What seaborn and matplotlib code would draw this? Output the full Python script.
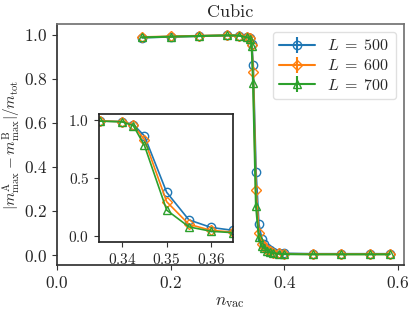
import numpy as np
import pandas as pd
import seaborn as sns
import matplotlib.pyplot as plt

# vacancy concentration and order parameter for three system sizes
n_vac = [0.15, 0.2, 0.25, 0.3, 0.32, 0.335, 0.34, 0.3425, 0.345, 0.35, 0.355,
         0.36, 0.365, 0.37, 0.375, 0.38, 0.39, 0.4, 0.45, 0.5, 0.55, 0.585]
m_500 = [0.988, 0.992, 0.995, 0.998, 0.997, 0.990, 0.985, 0.960, 0.862, 0.377, 0.140,
         0.075, 0.050, 0.032, 0.022, 0.015, 0.010, 0.007, 0.005, 0.005, 0.005, 0.005]
m_600 = [0.990, 0.993, 0.996, 0.998, 0.997, 0.990, 0.985, 0.955, 0.830, 0.296, 0.102,
         0.050, 0.035, 0.024, 0.016, 0.011, 0.007, 0.005, 0.004, 0.004, 0.004, 0.004]
m_700 = [0.989, 0.992, 0.995, 0.998, 0.997, 0.989, 0.983, 0.950, 0.780, 0.224, 0.080,
         0.042, 0.030, 0.020, 0.013, 0.009, 0.006, 0.004, 0.003, 0.003, 0.003, 0.003]
err = [0.0] * len(n_vac)

sizes = [500, 600, 700]
marcadores = ['o', 'D', '^']

sns.set_theme(style="ticks", palette="tab10")
plt.rcParams['font.family'] = 'serif'
plt.rcParams['font.serif'] = ['cmr10', 'DejaVu Serif']
plt.rcParams['mathtext.fontset'] = 'cm'
plt.rcParams['axes.formatter.use_mathtext'] = True
plt.rcParams['axes.unicode_minus'] = False

cores = sns.color_palette("tab10", 3)
series = [m_500, m_600, m_700]

fig = plt.figure(figsize=(4.15, 3.15), dpi=100)
ax = fig.add_axes([0.137, 0.159, 0.836, 0.765])

for L, y, c, mk in zip(sizes, series, cores, marcadores):
    ax.errorbar(n_vac, y, yerr=err, color=c, marker=mk, ms=6 if mk != 'D' else 5.5,
                mfc='none', mec=c, mew=1, lw=1.5, label=rf'$L\;=\;{L}$')

ax.set_xlim(0, 0.61)
ax.set_ylim(-0.045, 1.05)
ax.set_xticks([0.0, 0.2, 0.4, 0.6])
ax.set_yticks([0.0, 0.2, 0.4, 0.6, 0.8, 1.0])
ax.tick_params(labelsize=12.5, length=3.5, width=0.8, color='0.2')
for s in ['left', 'bottom']:
    ax.spines[s].set_color('0.2')
for s in ['top', 'right']:
    ax.spines[s].set_color('0.45')
ax.set_title('Cubic', fontsize=13, pad=5)
ax.set_xlabel(r'$n_{\rm vac}$', fontsize=12.5, labelpad=3)
ax.set_ylabel(r'$|m^{\rm A}_{\rm max} - m^{\rm B}_{\rm max}|/m_{\rm tot}$', fontsize=11)
ax.yaxis.set_label_coords(-0.097, 0.5)
ax.legend(loc='upper right', fontsize=11.5, handlelength=2.2, borderpad=0.4,
          labelspacing=0.3, edgecolor='0.85')

# inset zoom on the transition
dados = pd.DataFrame({'n': n_vac, '500': m_500, '600': m_600, '700': m_700})
axins = fig.add_axes([0.2386, 0.2317, 0.3229, 0.4063])
for L, c, mk in zip(sizes, cores, marcadores):
    sns.lineplot(data=dados, x='n', y=str(L), ax=axins, color=c, marker=mk,
                 markersize=6 if mk != 'D' else 5.5, markerfacecolor='none',
                 markeredgecolor=c, markeredgewidth=1, lw=1.2, legend=False)
axins.set_xlim(0.3348, 0.3649)
axins.set_ylim(-0.05, 1.05)
axins.set_xticks([0.34, 0.35, 0.36])
axins.set_yticks([0.0, 0.5, 1.0])
axins.set_xlabel('')
axins.set_ylabel('')
axins.tick_params(labelsize=11, length=3.5, width=0.8, color='0.2')
for s in axins.spines.values():
    s.set_color('0.15')

fig.savefig('out.png', dpi=100)
